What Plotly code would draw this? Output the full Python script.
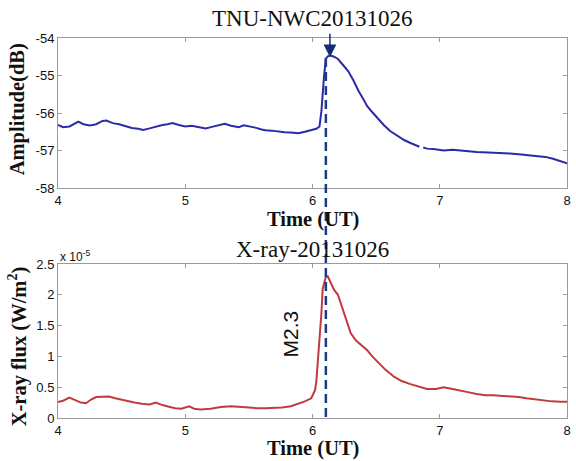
import plotly.graph_objects as go

# ---------------- data ----------------
vlf_time = [4.00, 4.04, 4.09, 4.13, 4.16, 4.20, 4.25, 4.30, 4.35, 4.38, 4.43, 4.48,
            4.53, 4.58, 4.63, 4.67, 4.72, 4.77, 4.82, 4.86, 4.90, 4.95, 5.00, 5.05,
            5.10, 5.16, 5.21, 5.26, 5.31, 5.36, 5.42, 5.46, 5.50, 5.55, 5.60, 5.63,
            5.68, 5.73, 5.78, 5.83, 5.89, 5.94, 5.99, 6.03, 6.055, 6.07, 6.09, 6.105,
            6.12, 6.14, 6.17, 6.20, 6.24, 6.28, 6.32, 6.36, 6.40, 6.43, 6.47, 6.51,
            6.56, 6.61, 6.66, 6.72, 6.77, 6.82, 6.84, 6.855, 6.87, 6.90, 6.95, 7.03,
            7.10, 7.20, 7.29, 7.38, 7.47, 7.55, 7.62, 7.68, 7.76, 7.83, 7.89, 7.95, 8.00]
vlf_amplitude = [-56.32, -56.38, -56.36, -56.28, -56.23, -56.30, -56.33, -56.30, -56.21, -56.20,
                 -56.27, -56.30, -56.35, -56.40, -56.42, -56.45, -56.41, -56.36, -56.32, -56.30,
                 -56.27, -56.32, -56.36, -56.34, -56.38, -56.41, -56.37, -56.32, -56.29, -56.34,
                 -56.38, -56.33, -56.35, -56.39, -56.44, -56.46, -56.47, -56.50, -56.51, -56.52,
                 -56.54, -56.50, -56.46, -56.42, -56.36, -55.95, -55.05, -54.55, -54.49, -54.47,
                 -54.50, -54.56, -54.72, -54.88, -55.12, -55.40, -55.63, -55.82, -55.98, -56.14,
                 -56.32, -56.48, -56.60, -56.72, -56.80, -56.88, -56.90, None, -56.92, -56.95,
                 -56.96, -57.00, -56.98, -57.02, -57.04, -57.05, -57.06, -57.08, -57.10, -57.12,
                 -57.13, -57.17, -57.22, -57.28, -57.34]

xray_time = [4.00, 4.04, 4.09, 4.13, 4.18, 4.22, 4.26, 4.30, 4.35, 4.40, 4.45, 4.53,
             4.60, 4.66, 4.72, 4.77, 4.82, 4.88, 4.92, 4.97, 5.03, 5.07, 5.12, 5.20,
             5.28, 5.36, 5.42, 5.50, 5.56, 5.63, 5.70, 5.76, 5.83, 5.89, 5.94, 5.99,
             6.02, 6.03, 6.04, 6.05, 6.07, 6.08, 6.095, 6.105, 6.12, 6.14, 6.17, 6.20,
             6.225, 6.25, 6.28, 6.30, 6.34, 6.38, 6.43, 6.47, 6.51, 6.57, 6.64, 6.70,
             6.77, 6.83, 6.90, 6.97, 7.03, 7.10, 7.16, 7.22, 7.29, 7.36, 7.42, 7.50,
             7.55, 7.62, 7.68, 7.75, 7.81, 7.88, 7.95, 8.00]
# X-ray flux in units of 1e-5 W/m^2
xray_flux_e5 = [0.26, 0.28, 0.33, 0.29, 0.25, 0.24, 0.30, 0.34, 0.35, 0.35, 0.32, 0.28,
                0.25, 0.23, 0.22, 0.25, 0.21, 0.18, 0.16, 0.15, 0.19, 0.15, 0.14, 0.15,
                0.18, 0.19, 0.18, 0.17, 0.16, 0.16, 0.16, 0.17, 0.19, 0.23, 0.27, 0.32,
                0.45, 0.59, 0.85, 1.16, 1.70, 2.10, 2.25, 2.29, 2.30, 2.21, 2.08, 2.00,
                1.85, 1.70, 1.50, 1.38, 1.26, 1.19, 1.10, 1.00, 0.91, 0.79, 0.67, 0.60,
                0.55, 0.51, 0.47, 0.47, 0.50, 0.47, 0.44, 0.42, 0.39, 0.37, 0.37, 0.36,
                0.36, 0.34, 0.32, 0.30, 0.28, 0.27, 0.265, 0.265]

x_ticks = [4, 5, 6, 7, 8]
amp_ticks = [-58, -57, -56, -55, -54]
amp_tick_text = ["-58", "-57", "-56", "-55", "-54"]
flux_ticks = [0, 0.5, 1, 1.5, 2, 2.5]
flux_tick_text = ["0", "0.5", "1", "1.5", "2", "2.5"]

flare_line_time = 6.105
vlf_peak_time = 6.137
vlf_peak_amp = -54.51
flare_class = "M2.3"
flare_label_time = 5.83
flare_label_flux = 1.37

# ---------------- figure ----------------
SERIF = "Liberation Serif, Times New Roman, serif"
SANS = "Liberation Sans, Arial, sans-serif"
FRAME = "#9a9a9a"

fig = go.Figure()
fig.add_trace(go.Scatter(x=vlf_time, y=vlf_amplitude, mode="lines",
                         line=dict(color="#2b2ba6", width=2),
                         connectgaps=False, xaxis="x", yaxis="y", showlegend=False))
fig.add_trace(go.Scatter(x=xray_time, y=xray_flux_e5, mode="lines",
                         line=dict(color="#c23a3e", width=2),
                         xaxis="x2", yaxis="y2", showlegend=False))

axis_common = dict(showline=True, linecolor=FRAME, linewidth=1, mirror="ticks",
                   ticks="inside", ticklen=4, tickcolor=FRAME, showgrid=False,
                   zeroline=False, ticklabeloverflow="allow",
                   tickfont=dict(family=SANS, size=13, color="#111"))

top_dom = [(418 - 188) / 380, 1.0]
bot_dom = [0.0, (418 - 264) / 380]

fig.update_layout(
    width=576, height=461, autosize=False,
    margin=dict(l=58, r=5, t=38, b=43),
    paper_bgcolor="white", plot_bgcolor="white",
    xaxis=dict(domain=[0, 1], range=[4, 8], tickvals=x_ticks, anchor="y", **axis_common),
    yaxis=dict(domain=top_dom, range=[-58, -54], tickvals=amp_ticks,
               ticktext=amp_tick_text, anchor="x", **axis_common),
    xaxis2=dict(domain=[0, 1], range=[4, 8], tickvals=x_ticks, anchor="y2", **axis_common),
    yaxis2=dict(domain=bot_dom, range=[0, 2.5], tickvals=flux_ticks,
                ticktext=flux_tick_text, anchor="x2", **axis_common),
)

W = 576 - 58 - 5

def py(pix):
    return (418 - pix) / 380

annots = [
    dict(text="TNU-NWC20131026", x=0.5, y=py(18), xref="paper", yref="paper",
         showarrow=False, font=dict(family=SERIF, size=23, color="#111"),
         xanchor="center", yanchor="middle"),
    dict(text="X-ray-20131026", x=0.5, y=py(249), xref="paper", yref="paper",
         showarrow=False, font=dict(family=SERIF, size=23, color="#111"),
         xanchor="center", yanchor="middle"),
    dict(text="<b>Time (UT)</b>", x=0.5, y=py(219), xref="paper", yref="paper",
         showarrow=False, font=dict(family=SERIF, size=20.5, color="#111"),
         xanchor="center", yanchor="middle"),
    dict(text="<b>Time (UT)</b>", x=0.5, y=py(448), xref="paper", yref="paper",
         showarrow=False, font=dict(family=SERIF, size=20.5, color="#111"),
         xanchor="center", yanchor="middle"),
    dict(text="<b>Amplitude(dB)</b>", x=(17 - 58) / W, y=py(109), xref="paper",
         yref="paper", showarrow=False, textangle=-90,
         font=dict(family=SERIF, size=20.5, color="#111"),
         xanchor="center", yanchor="middle"),
    dict(text="<b>X-ray flux (W/m<sup>2</sup>)</b>", x=(17 - 58) / W, y=py(346),
         xref="paper", yref="paper", showarrow=False, textangle=-90,
         font=dict(family=SERIF, size=20.5, color="#111"),
         xanchor="center", yanchor="middle"),
    dict(text="x 10<sup>-5</sup>", x=0, y=py(256), xref="paper", yref="paper",
         showarrow=False, font=dict(family=SANS, size=12, color="#111"),
         xanchor="left", yanchor="middle"),
    dict(text=flare_class, x=flare_label_time, y=flare_label_flux, xref="x2", yref="y2",
         showarrow=False, textangle=-90, font=dict(family=SANS, size=21, color="#111"),
         xanchor="center", yanchor="middle"),
    dict(text="", x=vlf_peak_time, y=vlf_peak_amp, xref="x", yref="y",
         showarrow=True, ax=0, ay=-25, arrowhead=2, arrowsize=1.7, arrowwidth=1.5,
         arrowcolor="#172a78"),
]
fig.update_layout(annotations=annots)

fig.add_shape(type="line", x0=flare_line_time, x1=flare_line_time, xref="x",
              y0=py(58), y1=0, yref="paper",
              line=dict(color="#1a3a8c", width=2.5, dash="9px,5px"))

fig.write_html("out.html",
               config={"displayModeBar": False},
               post_script="document.body.style.margin='0px';"
                           "document.body.style.overflow='hidden';")
